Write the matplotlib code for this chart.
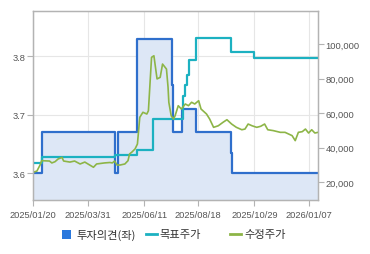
import matplotlib
matplotlib.use("Agg")
import matplotlib.pyplot as plt
import matplotlib.dates as mdates
from matplotlib.lines import Line2D
from matplotlib.patches import Rectangle
from matplotlib.ticker import FuncFormatter
import pandas as pd

# 투자의견 (left axis), step values
opinion_dates = ["2025-01-20", "2025-01-31", "2025-05-05", "2025-05-08", "2025-06-02",
                 "2025-07-16", "2025-07-17", "2025-07-29", "2025-08-15", "2025-09-29",
                 "2025-09-30", "2026-01-18"]
opinion_vals = [3.60, 3.67, 3.60, 3.67, 3.83, 3.75, 3.67, 3.71, 3.67, 3.634, 3.60, 3.60]

# 목표주가 (right axis), step values
target_dates = ["2025-01-20", "2025-01-31", "2025-05-05", "2025-06-02", "2025-06-22",
                "2025-07-30", "2025-08-01", "2025-08-04", "2025-08-07", "2025-08-15",
                "2025-09-29", "2025-10-28", "2026-01-18"]
target_vals = [31300, 34500, 35800, 38600, 56800, 70000, 76000, 82000, 91000, 103500,
               95200, 91700, 91700]

# 수정주가 (right axis)
price_dates = ["2025-01-20", "2025-01-25", "2025-01-29", "2025-01-31", "2025-02-10",
               "2025-02-13", "2025-02-17", "2025-02-21", "2025-02-26", "2025-02-28",
               "2025-03-08", "2025-03-14", "2025-03-21", "2025-03-27", "2025-03-31",
               "2025-04-07", "2025-04-11", "2025-04-21", "2025-04-28", "2025-05-01",
               "2025-05-04", "2025-05-07", "2025-05-11", "2025-05-17", "2025-05-21",
               "2025-05-23", "2025-05-26", "2025-05-30", "2025-06-02", "2025-06-05",
               "2025-06-09", "2025-06-14", "2025-06-16", "2025-06-18", "2025-06-20",
               "2025-06-23", "2025-06-27", "2025-07-01", "2025-07-04", "2025-07-09",
               "2025-07-11", "2025-07-12", "2025-07-15", "2025-07-18", "2025-07-20",
               "2025-07-24", "2025-07-28", "2025-08-02", "2025-08-06", "2025-08-10",
               "2025-08-14", "2025-08-19", "2025-08-22", "2025-08-29", "2025-09-02",
               "2025-09-07", "2025-09-13", "2025-09-19", "2025-09-24", "2025-09-30",
               "2025-10-06", "2025-10-13", "2025-10-17", "2025-10-21", "2025-10-26",
               "2025-11-01", "2025-11-06", "2025-11-11", "2025-11-15", "2025-11-22",
               "2025-12-01", "2025-12-07", "2025-12-16", "2025-12-20", "2025-12-24",
               "2025-12-29", "2026-01-02", "2026-01-06", "2026-01-10", "2026-01-14",
               "2026-01-18"]
price_vals = [25800, 26500, 30000, 32500, 32300,
              31200, 31900, 33500, 34400, 32300,
              31700, 32300, 30600, 31700, 30600,
              28700, 30600, 31200, 31450, 31200,
              32300, 30000, 30000, 30600, 32500,
              36400, 37500, 39300, 42150, 57600,
              60500, 59500, 61400, 76900, 92300,
              93200, 79800, 80700, 88400, 85500,
              75000, 66300, 58500, 56600, 58500,
              64300, 62400, 65300, 64300, 66300,
              65300, 67200, 62400, 59500, 56600,
              51800, 52700, 54700, 56200, 53700,
              51800, 50400, 50800, 53700, 52700,
              51800, 52400, 53700, 50400, 49900,
              48900, 48900, 47000, 44100, 48900,
              49300, 50800, 48500, 50400, 48500,
              48900]

date_ticks = ["2025-01-20", "2025-03-31", "2025-06-11", "2025-08-18", "2025-10-29", "2026-01-07"]

BLUE = "#2f6fcc"
FILL = "#dde7f6"
TEAL = "#1cb1c1"
GREEN = "#8db547"
GRID = "#e6e6e6"
SPINE = "#b3b3b3"
TXT = "#555555"

od = pd.to_datetime(opinion_dates)
td = pd.to_datetime(target_dates)
pdt = pd.to_datetime(price_dates)

fig = plt.figure(figsize=(3.7, 2.55), dpi=100)
ax1 = fig.add_axes([33 / 370, 1 - 201 / 255, 285 / 370, 189 / 255])
ax2 = ax1.twinx()

ax1.fill_between(od, opinion_vals, 3.0, step="post", color=FILL, lw=0)
ax1.step(od, opinion_vals, where="post", color=BLUE, lw=1.6)
ax2.step(td, target_vals, where="post", color=TEAL, lw=1.6)
ax2.plot(pdt, price_vals, color=GREEN, lw=1.2)

ax1.set_xlim(pd.Timestamp("2025-01-20"), pd.Timestamp("2026-01-18"))
ax1.set_ylim(3.554, 3.877)
ax2.set_ylim(9760, 119090)

ax1.set_xticks(pd.to_datetime(date_ticks))
ax1.xaxis.set_major_formatter(mdates.DateFormatter("%Y/%m/%d"))
ax1.set_yticks([3.6, 3.7, 3.8])
ax1.yaxis.set_major_formatter(FuncFormatter(lambda v, p: f"{v:.1f}"))
ax2.set_yticks([20000, 40000, 60000, 80000, 100000])
ax2.yaxis.set_major_formatter(FuncFormatter(lambda v, p: f"{int(v):,}"))

ax1.grid(True, color=GRID, lw=0.8)
ax1.set_axisbelow(True)
for ax in (ax1, ax2):
    for s in ax.spines.values():
        s.set_color(SPINE)
        s.set_linewidth(0.9)
    ax.tick_params(colors=SPINE, labelcolor=TXT, length=4, width=0.8, labelsize=6.7, pad=1.5)
for lab in ax1.get_xticklabels() + ax1.get_yticklabels() + ax2.get_yticklabels():
    lab.set_fontfamily("Liberation Sans")
ax1.tick_params(axis="x", pad=3)

# legend
ly = 1 - 235 / 255
fig.add_artist(Rectangle((62 / 370, ly - 4.5 / 255), 8.5 / 370, 9 / 255,
                         transform=fig.transFigure, color="#2a78dd", lw=0))
fig.add_artist(Line2D([146 / 370, 157 / 370], [ly, ly], transform=fig.transFigure,
                      color=TEAL, lw=2))
fig.add_artist(Line2D([230 / 370, 241 / 370], [ly, ly], transform=fig.transFigure,
                      color=GREEN, lw=2))
kw = dict(fontsize=8.1, color="#333333", va="center", family=["Noto Sans CJK KR", "DejaVu Sans"])
fig.text(76 / 370, ly, "투자의견(좌)", **kw)
fig.text(159 / 370, ly, "목표주가", **kw)
fig.text(244 / 370, ly, "수정주가", **kw)

fig.savefig("out.png", dpi=100)
